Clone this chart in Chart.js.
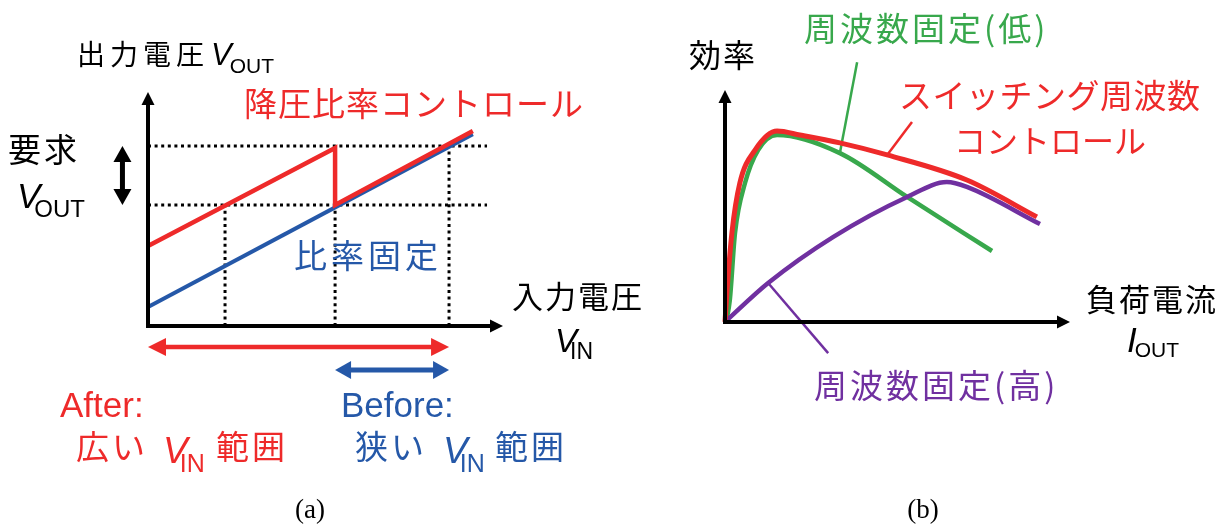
<!DOCTYPE html>
<html>
<head>
<meta charset="utf-8">
<script src="https://cdn.jsdelivr.net/npm/chart.js@4.4.1/dist/chart.umd.min.js"></script>
<style>
  html, body { margin: 0; padding: 0; background: #fff; }
  #wrap { position: relative; width: 1224px; height: 526px; overflow: hidden; }
  canvas { position: absolute; top: 0; }
  .lbl { position: absolute; line-height: 1; white-space: nowrap; color: #000;
         font-family: "Noto Sans CJK JP", "Noto Sans", sans-serif; }
  .lat { font-family: "Liberation Sans", Arial, sans-serif; }
  .it { font-style: italic; }
  .sb { position: relative; font-style: normal; }
  .cap { font-family: "Liberation Serif", "Times New Roman", serif; width: 100px; text-align: center; }
  .red { color: #ee2a2a; }
  .blue { color: #2558a8; }
  .green { color: #38a84c; }
  .purple { color: #7030a0; }
</style>
</head>
<body>
<div id="wrap">
  <canvas id="chartA" width="612" height="526" style="left:0"></canvas>
  <canvas id="chartB" width="612" height="526" style="left:612px"></canvas>

  <!-- (a) -->
  <div class="lbl" style="left:77px;top:39px;font-size:28px;letter-spacing:5px">出力電圧</div>
  <div class="lbl lat it" style="left:211px;top:39px;font-size:31px">V<span class="sb" style="font-size:21px;top:8px;margin-left:-2px">OUT</span></div>
  <div class="lbl red" style="left:244px;top:86px;font-size:33px;letter-spacing:1px">降圧比率コントロール</div>
  <div class="lbl" style="left:8px;top:132px;font-size:33px;letter-spacing:3px">要求</div>
  <div class="lbl lat it" style="left:17px;top:178px;font-size:35px">V<span class="sb" style="font-size:24px;top:9px;margin-left:-6px">OUT</span></div>
  <div class="lbl blue" style="left:294px;top:238px;font-size:33px;letter-spacing:4px">比率固定</div>
  <div class="lbl" style="left:512px;top:279px;font-size:31px;letter-spacing:2px">入力電圧</div>
  <div class="lbl lat it" style="left:555px;top:324px;font-size:33px">V<span class="sb" style="font-size:23px;top:7px;margin-left:-7px">IN</span></div>

  <div class="lbl lat red" style="left:60px;top:387px;font-size:35px">After:</div>
  <div class="lbl red" style="left:76px;top:429px;font-size:33px;letter-spacing:3px">広い</div>
  <div class="lbl lat it red" style="left:163px;top:432px;font-size:37px">V<span class="sb" style="font-size:25px;top:9px;margin-left:-8px">IN</span></div>
  <div class="lbl red" style="left:216px;top:429px;font-size:33px;letter-spacing:3px">範囲</div>

  <div class="lbl lat blue" style="left:341px;top:387px;font-size:35px">Before:</div>
  <div class="lbl blue" style="left:355px;top:429px;font-size:33px;letter-spacing:3px">狭い</div>
  <div class="lbl lat it blue" style="left:443px;top:432px;font-size:37px">V<span class="sb" style="font-size:25px;top:9px;margin-left:-8px">IN</span></div>
  <div class="lbl blue" style="left:495px;top:429px;font-size:33px;letter-spacing:3px">範囲</div>

  <div class="lbl cap" style="left:260px;top:496px;font-size:27px">(a)</div>

  <!-- (b) -->
  <div class="lbl" style="left:689px;top:37px;font-size:32px;letter-spacing:2px">効率</div>
  <div class="lbl green" style="left:804px;top:11px;font-size:33px;letter-spacing:3px">周波数固定(低)</div>
  <div class="lbl red" style="left:899px;top:78px;font-size:33px;letter-spacing:0.5px">スイッチング周波数</div>
  <div class="lbl red" style="left:954px;top:123px;font-size:32px">コントロール</div>
  <div class="lbl purple" style="left:814px;top:368px;font-size:33px;letter-spacing:3px">周波数固定(高)</div>
  <div class="lbl" style="left:1086px;top:282px;font-size:31px;letter-spacing:2px">負荷電流</div>
  <div class="lbl lat it" style="left:1127px;top:322px;font-size:35px">I<span class="sb" style="font-size:21px;top:5px;margin-left:-2px">OUT</span></div>

  <div class="lbl cap" style="left:873px;top:496px;font-size:27px">(b)</div>
</div>

<script>
  // ---- (a) 入力電圧 vs 出力電圧, both axes 0..10 ----
  const vinFixed = [0, 9.15];
  const voutFixed = [0.81, 8.2];
  const vinCtrl = [0, 5.27, 5.27, 9.15];
  const voutCtrl = [3.42, 7.61, 5.17, 8.33];
  const voutTarget = [5.17, 7.69];      // 要求 VOUT (dotted levels)
  const guideEnd = 9.55;
  const vinMarks = [2.17, 5.27, 8.48];  // dotted verticals
  const vinMarkTop = [5.17, 5.17, 7.69];
  const afterRange = [0, 8.48];
  const beforeRange = [5.27, 8.48];
  const rangeLevels = [-0.9, -1.88];    // below the x axis
  const targetArrowX = -0.72;

  // ---- (b) 負荷電流 vs 効率, both axes 0..10 ----
  const ioutSw = [0, 0.06, 0.2, 0.43, 0.87, 1.51, 2.17, 3.33, 4.7, 7.01, 9.04];
  const effSw = [0, 1.38, 3.84, 5.99, 7.41, 8.23, 8.06, 7.72, 7.2, 6.12, 4.53];
  const ioutLow = [0.03, 0.14, 0.29, 0.58, 0.96, 1.51, 3.33, 5.28, 7.74];
  const effLow = [0, 0.95, 3.84, 5.99, 7.41, 8.06, 7.28, 5.39, 3.06];
  const ioutHigh = [0, 1.25, 3.13, 5.28, 6.43, 7.01, 9.13];
  const effHigh = [0, 1.68, 3.66, 5.39, 6.03, 5.82, 4.22];
  // leader lines to the labels
  const leadLowX = [3.83, 3.33], leadLowY = [11.2, 7.28];
  const leadSwX = [5.42, 4.7], leadSwY = [8.62, 7.2];
  const leadHighX = [1.25, 2.99], leadHighY = [1.68, -1.34];

  const RED = "#ee2a2a";
  const BLUE = "#2558a8";
  const GREEN = "#38a84c";
  const PURPLE = "#7030a0";

  const pts = (xs, ys) => xs.map((x, i) => ({ x: x, y: ys[i] }));

  function head(ctx, x, y, ang, len, half) {
    const c = Math.cos(ang), s = Math.sin(ang);
    ctx.beginPath();
    ctx.moveTo(x, y);
    ctx.lineTo(x - len * c - half * s, y - len * s + half * c);
    ctx.lineTo(x - len * c + half * s, y - len * s - half * c);
    ctx.closePath();
    ctx.fill();
  }

  // single or double arrow, pixel coords
  function arrow(ctx, x1, y1, x2, y2, color, width, len, half, both) {
    const ang = Math.atan2(y2 - y1, x2 - x1);
    const c = Math.cos(ang), s = Math.sin(ang);
    ctx.save();
    ctx.strokeStyle = color;
    ctx.fillStyle = color;
    ctx.lineWidth = width;
    ctx.lineCap = "butt";
    ctx.beginPath();
    ctx.moveTo(both ? x1 + (len - 1) * c : x1, both ? y1 + (len - 1) * s : y1);
    ctx.lineTo(x2 - (len - 1) * c, y2 - (len - 1) * s);
    ctx.stroke();
    head(ctx, x2, y2, ang, len, half);
    if (both) head(ctx, x1, y1, ang + Math.PI, len, half);
    ctx.restore();
  }

  const axesPlugin = {
    id: "axes",
    afterDatasetsDraw(chart) {
      const a = chart.chartArea;
      const ctx = chart.ctx;
      arrow(ctx, a.left - 2, a.bottom, a.right, a.bottom, "#000", 4, 13, 6.5, false);
      arrow(ctx, a.left, a.bottom + 2, a.left, a.top, "#000", 4, 13, 6.5, false);
    }
  };

  const rangePlugin = {
    id: "ranges",
    afterDraw(chart) {
      const xs = chart.scales.x, ys = chart.scales.y, ctx = chart.ctx;
      let y = ys.getPixelForValue(rangeLevels[0]);
      arrow(ctx, xs.getPixelForValue(afterRange[0]), y, xs.getPixelForValue(afterRange[1]), y, RED, 4.5, 18, 9, true);
      y = ys.getPixelForValue(rangeLevels[1]);
      arrow(ctx, xs.getPixelForValue(beforeRange[0]), y, xs.getPixelForValue(beforeRange[1]), y, BLUE, 5, 16, 9, true);
      const x = xs.getPixelForValue(targetArrowX);
      arrow(ctx, x, ys.getPixelForValue(voutTarget[0]), x, ys.getPixelForValue(voutTarget[1]), "#000", 5, 16, 9, true);
    }
  };

  function baseOptions(pad) {
    return {
      responsive: false,
      animation: false,
      devicePixelRatio: 1,
      layout: { padding: pad },
      scales: {
        x: { type: "linear", min: 0, max: 10, display: false },
        y: { type: "linear", min: 0, max: 10, display: false }
      },
      plugins: { legend: { display: false }, tooltip: { enabled: false } },
      elements: { point: { radius: 0 }, line: { borderCapStyle: "butt" } }
    };
  }

  const dotted = { borderColor: "#000", borderWidth: 3, borderDash: [3, 3.6], showLine: true, order: 10, clip: false };

  const dsA = [];
  voutTarget.forEach((v) => {
    dsA.push(Object.assign({ data: pts([0, guideEnd], [v, v]) }, dotted));
  });
  vinMarks.forEach((m, i) => {
    dsA.push(Object.assign({ data: pts([m, m], [0, vinMarkTop[i]]) }, dotted));
  });
  dsA.push({ label: "比率固定", data: pts(vinFixed, voutFixed), borderColor: BLUE, borderWidth: 4, showLine: true, order: 2, clip: false });
  dsA.push({ label: "降圧比率コントロール", data: pts(vinCtrl, voutCtrl), borderColor: RED, borderWidth: 4.5, showLine: true, order: 1, clip: false, borderJoinStyle: "miter" });

  new Chart(document.getElementById("chartA"), {
    type: "scatter",
    data: { datasets: dsA },
    options: baseOptions({ left: 148, right: 109, top: 92, bottom: 200 }),
    plugins: [axesPlugin, rangePlugin]
  });

  const curve = { showLine: true, cubicInterpolationMode: "monotone", clip: false };
  const leader = { showLine: true, borderWidth: 2.5, clip: false, order: 5 };

  new Chart(document.getElementById("chartB"), {
    type: "scatter",
    data: {
      datasets: [
        Object.assign({ label: "スイッチング周波数コントロール", data: pts(ioutSw, effSw), borderColor: RED, borderWidth: 5, order: 1 }, curve),
        Object.assign({ label: "周波数固定(高)", data: pts(ioutHigh, effHigh), borderColor: PURPLE, borderWidth: 4.5, order: 2 }, curve),
        Object.assign({ label: "周波数固定(低)", data: pts(ioutLow, effLow), borderColor: GREEN, borderWidth: 4.5, order: 3 }, curve),
        Object.assign({ data: pts(leadLowX, leadLowY), borderColor: GREEN }, leader),
        Object.assign({ data: pts(leadSwX, leadSwY), borderColor: RED }, leader),
        Object.assign({ data: pts(leadHighX, leadHighY), borderColor: PURPLE }, leader)
      ]
    },
    options: baseOptions({ left: 113, right: 154, top: 90, bottom: 204 }),
    plugins: [axesPlugin]
  });
</script>
</body>
</html>
